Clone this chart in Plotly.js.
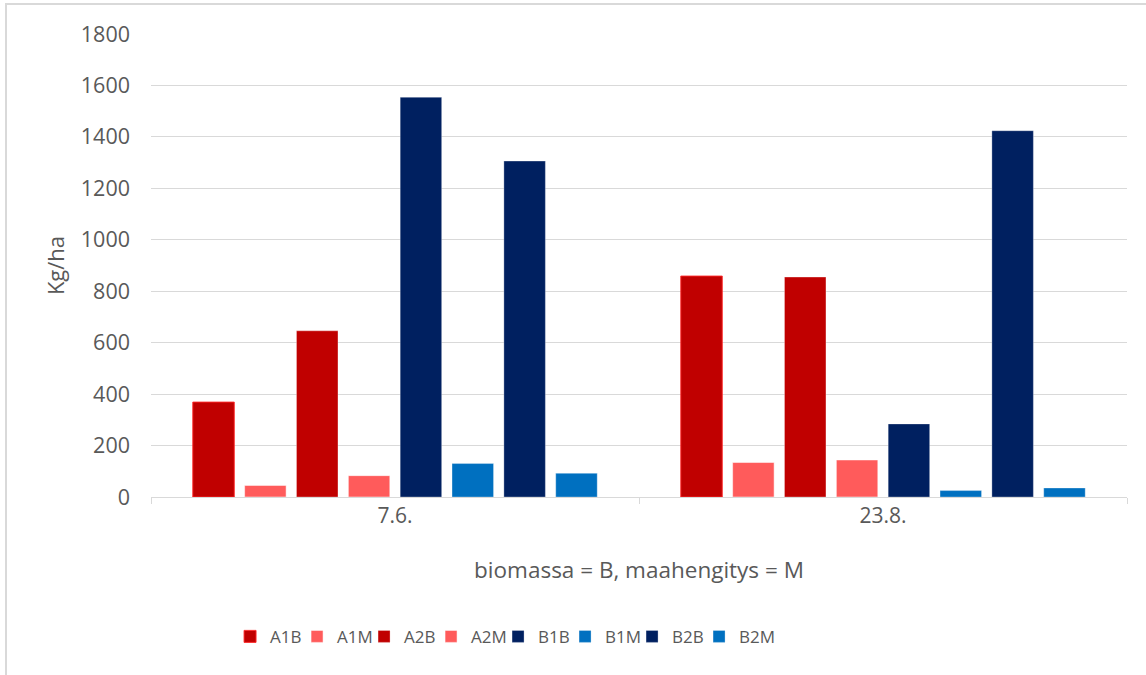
<!DOCTYPE html>
<html>
<head>
<meta charset="utf-8">
<script src="https://cdn.plot.ly/plotly-3.0.1.min.js"></script>
<style>
  html, body { margin: 0; padding: 0; background: #ffffff; overflow: hidden; }
  #frame { position: absolute; left: 5px; top: 3px; width: 1160px; height: 700px;
           border: 2px solid #d9d9d9; box-sizing: border-box; }
  #chart { position: absolute; left: 0; top: 0; width: 1146px; height: 675px; }
</style>
</head>
<body>
<div id="frame"></div>
<div id="chart"></div>
<script>
// Sampling dates (categories on the x axis)
const dates = ['7.6.', '23.8.'];

// Series: A/B treatment, 1/2 replicate, B = biomassa, M = maahengitys (kg/ha)
const seriesNames = ['A1B', 'A1M', 'A2B', 'A2M', 'B1B', 'B1M', 'B2B', 'B2M'];
const A1B = [369, 859];
const A1M = [45, 134];
const A2B = [646, 855];
const A2M = [83, 144];
const B1B = [1554, 284];
const B1M = [130, 25];
const B2B = [1306, 1424];
const B2M = [92, 35];

const seriesValues = [A1B, A1M, A2B, A2M, B1B, B1M, B2B, B2M];
const seriesColors = ['#c00000', '#ff5b5b', '#c00000', '#ff5b5b',
                      '#002060', '#0070c0', '#002060', '#0070c0'];
const seriesEdges = ['rgba(255,40,40,0.9)', 'rgba(255,255,255,0.5)', 'rgba(255,255,255,0.3)',
                     'rgba(255,255,255,0.5)', 'rgba(255,255,255,0.3)', 'rgba(255,255,255,0.3)',
                     'rgba(255,255,255,0.3)', 'rgba(255,255,255,0.3)'];

const traces = seriesNames.map((name, i) => ({
  type: 'bar',
  name: name,
  x: dates,
  y: seriesValues[i],
  marker: { color: seriesColors[i], line: { color: seriesEdges[i], width: 1 } },
  hoverinfo: 'x+y+name'
}));

// Blank, transparent legend slot so the last entry's label has room to the right
traces.push({
  type: 'bar',
  name: ' ',
  x: dates,
  y: [0, 0],
  visible: 'legendonly',
  marker: { color: 'rgba(0,0,0,0)', line: { width: 0 } },
  hoverinfo: 'skip'
});

const FONT = '"Open Sans", "Noto Sans", sans-serif';
const GREY = '#595959';

const layout = {
  width: 1146,
  height: 675,
  paper_bgcolor: 'rgba(0,0,0,0)',
  plot_bgcolor: 'rgba(0,0,0,0)',
  margin: { l: 151, r: 19, t: 34, b: 178 },
  barmode: 'group',
  bargap: 0.15,
  bargroupgap: 0.2,
  font: { family: FONT, color: GREY, size: 21 },
  xaxis: {
    type: 'category',
    showline: true,
    linecolor: '#d9d9d9',
    linewidth: 1,
    ticks: 'outside',
    tickson: 'boundaries',
    ticklen: 6,
    tickcolor: '#d9d9d9',
    tickwidth: 1,
    tickfont: { family: FONT, size: 21, color: GREY },
    title: { text: 'biomassa = B, maahengitys = M', font: { family: FONT, size: 22.5, color: GREY }, standoff: 34 },
    automargin: false,
    fixedrange: true
  },
  yaxis: {
    range: [0, 1800],
    dtick: 200,
    showgrid: true,
    gridcolor: '#d9d9d9',
    gridwidth: 1,
    zeroline: false,
    showline: false,
    ticks: '',
    ticklabelstandoff: 20,
    tickfont: { family: FONT, size: 21.5, color: GREY },
    title: { text: 'Kg/ha', font: { family: FONT, size: 22, color: GREY }, standoff: 10 },
    automargin: false,
    fixedrange: true
  },
  showlegend: true,
  legend: {
    orientation: 'h',
    x: 0.081,
    xanchor: 'left',
    y: -0.302,
    yanchor: 'middle',
    font: { family: FONT, size: 17, color: GREY },
    itemwidth: 30,
    entrywidth: 22,
    entrywidthmode: 'pixels',
    traceorder: 'normal',
    itemclick: false,
    itemdoubleclick: false,
    bgcolor: 'rgba(0,0,0,0)'
  }
};

Plotly.newPlot('chart', traces, layout, { displayModeBar: false, staticPlot: true });
</script>
</body>
</html>
